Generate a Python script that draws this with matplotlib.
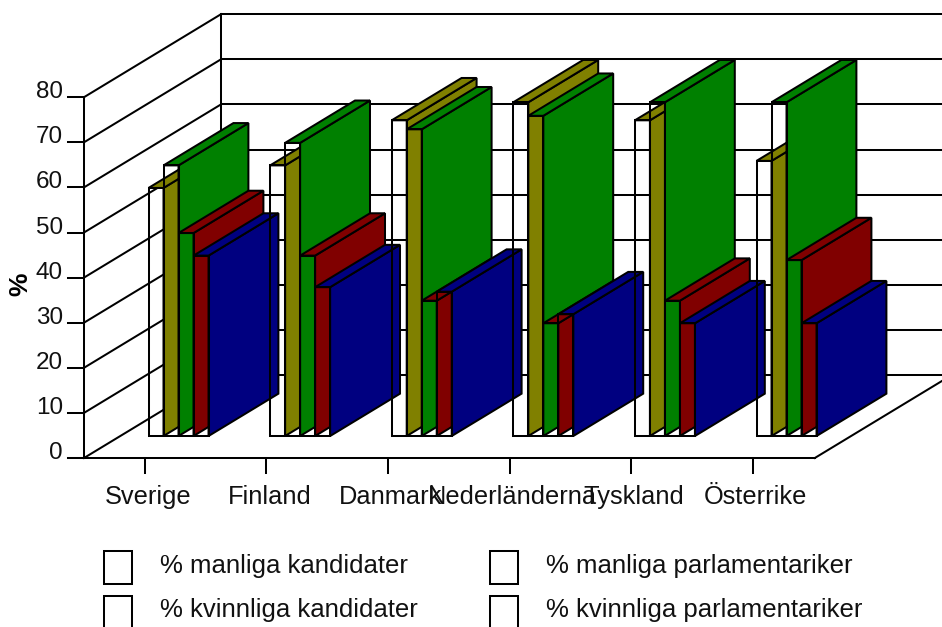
import matplotlib
matplotlib.use("Agg")
import matplotlib.pyplot as plt
from matplotlib.patches import Polygon, Rectangle

plt.rcParams['font.family'] = ['Liberation Sans', 'DejaVu Sans']

countries = ["Sverige", "Finland", "Danmark", "Nederländerna", "Tyskland", "Österrike"]
manliga_kandidater = [55, 60, 70, 74, 70, 61]
manliga_parlamentariker = [60, 65, 68, 71, 74, 74]
kvinnliga_kandidater = [45, 40, 30, 25, 30, 39]
kvinnliga_parlamentariker = [40, 33, 32, 27, 25, 25]
series = [manliga_kandidater, manliga_parlamentariker,
          kvinnliga_kandidater, kvinnliga_parlamentariker]
side_colors = ["#808000", "#008000", "#800000", "#000080"]
legend_rows = [["% manliga kandidater", "% manliga parlamentariker"],
               ["% kvinnliga kandidater", "% kvinnliga parlamentariker"]]
y_ticks = [0, 10, 20, 30, 40, 50, 60, 70, 80]

W, H = 942, 627
X0, Y0 = 84, 458          # pixel position of the chart origin
CAT_PX, VAL_PX = 121.6, 4.51
DEPTH_X, DEPTH_Y = 137 / CAT_PX, 83 / VAL_PX  # oblique offset of the full floor depth
Z_FRONT, Z_BACK = 0.265, 0.775
BAR_START, BAR_W = 0.232, 0.1234
LW = 1.45
INK = "#000000"

fig = plt.figure(figsize=(W / 100, H / 100), dpi=100)
ax = fig.add_axes([0, 0, 1, 1])
ax.set_xlim(-X0 / CAT_PX, (W - X0) / CAT_PX)
ax.set_ylim((Y0 - H) / VAL_PX, Y0 / VAL_PX)
ax.axis("off")


def proj(u, v, z=0.0):
    return (u + z * DEPTH_X, v + z * DEPTH_Y)


def line(a, b, **kw):
    ax.plot([a[0], b[0]], [a[1], b[1]], color=INK, lw=LW, solid_capstyle="projecting", **kw)


n = len(countries)
floor_end = n + 0.01
back_end = (W - X0 - 137) / CAT_PX + 0.01

# walls and floor
for v in y_ticks:
    line(proj(0, v), proj(0, v, 1))
    line(proj(0, v, 1), (back_end + DEPTH_X, v + DEPTH_Y))
    line((-16 / CAT_PX, v), (0, v))
line(proj(0, 0), proj(0, 80))
line(proj(0, 0, 1), proj(0, 80, 1))
line((-16 / CAT_PX, 0), (floor_end, 0))
line((floor_end, 0), proj(floor_end, 0, 0.97))

# category ticks and labels
for i, name in enumerate(countries):
    tick_u = i + 0.5
    line((tick_u, 0), (tick_u, -15 / VAL_PX))
    ax.text(tick_u + 3 / CAT_PX, -39 / VAL_PX, name, ha="center", va="center",
            fontsize=18.3, color="#111111")
for v in y_ticks:
    ax.text(-21 / CAT_PX, v + 5 / VAL_PX, str(v), ha="right", va="center",
            fontsize=17.5, color="#111111")
ax.text(-64 / CAT_PX, 38.5, "%", rotation=90, ha="center", va="center",
        fontsize=19, fontweight="bold", color="#000000")

# bars: open front faces, coloured side and top faces
for c in range(n):
    for s, values in enumerate(series):
        left = c + BAR_START + s * BAR_W
        right = left + BAR_W
        v = values[c]
        side = [proj(right, 0, Z_FRONT), proj(right, v, Z_FRONT),
                proj(right, v, Z_BACK), proj(right, 0, Z_BACK)]
        top = [proj(left, v, Z_FRONT), proj(right, v, Z_FRONT),
               proj(right, v, Z_BACK), proj(left, v, Z_BACK)]
        ax.add_patch(Polygon(side, closed=True, fc=side_colors[s], ec=INK, lw=LW, zorder=3 + c))
        ax.add_patch(Polygon(top, closed=True, fc=side_colors[s], ec=INK, lw=LW, zorder=3 + c))
    for s, values in enumerate(series):
        left = c + BAR_START + s * BAR_W
        right = left + BAR_W
        v = values[c]
        front = [proj(left, 0, Z_FRONT), proj(left, v, Z_FRONT),
                 proj(right, v, Z_FRONT), proj(right, 0, Z_FRONT)]
        ax.add_patch(Polygon(front, closed=True, fill=False, ec=INK, lw=LW, zorder=3 + c))

# legend (empty swatches, as in the original)
for r, (row, box_y, text_y) in enumerate(zip(legend_rows, [551, 596], [566, 610])):
    for label, box_x, text_x in zip(row, [104, 490], [160, 546]):
        fig.add_artist(Rectangle((box_x / W, 1 - (box_y + 33) / H), 28 / W, 33 / H,
                                 transform=fig.transFigure, fill=False, ec=INK, lw=LW))
        fig.text(text_x / W, 1 - text_y / H, label, ha="left", va="center",
                 fontsize=18.5, color="#111111")

fig.savefig("out.png", dpi=100)
